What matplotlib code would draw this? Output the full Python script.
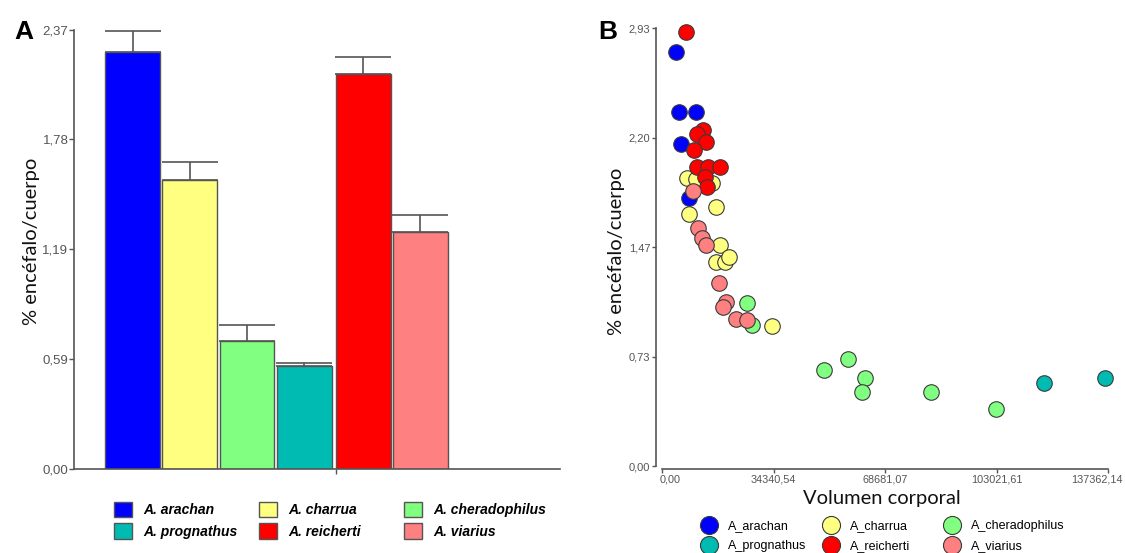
import numpy as np
import matplotlib.pyplot as plt
import matplotlib.transforms as mtransforms
from matplotlib.patches import Patch
from matplotlib.lines import Line2D

# Panel A: mean % encefalo/cuerpo per species (+ upper error)
species = ["A. arachan", "A. charrua", "A. cheradophilus",
           "A. prognathus", "A. reicherti", "A. viarius"]
colors = ["#0000FF", "#FFFF80", "#80FF80", "#00BBB2", "#FF0000", "#FF8080"]
means = [2.248, 1.559, 0.690, 0.556, 2.131, 1.277]
errs = [0.116, 0.095, 0.085, 0.016, 0.093, 0.093]
ylabels_a = ["0,00", "0,59", "1,19", "1,78", "2,37"]

# Panel B: body volume vs % encefalo/cuerpo
arachan_x = [4320, 5340, 10490, 5770, 8430]
arachan_y = [2.767, 2.370, 2.370, 2.152, 1.790]
charrua_x = [7610, 10490, 15330, 16660, 8430, 17890, 16560, 19440, 20670, 33840]
charrua_y = [1.924, 1.918, 1.895, 1.730, 1.686, 1.478, 1.367, 1.367, 1.396, 0.936]
cherado_x = [26320, 27670, 49760, 57170, 62630, 61600, 82890, 102730]
cherado_y = [1.088, 0.943, 0.642, 0.716, 0.591, 0.493, 0.493, 0.381]
progn_x = [117640, 136360]
progn_y = [0.553, 0.591]
reich_x = [7400, 12750, 10700, 13570, 9970, 10700, 14290, 17890, 13260, 13980]
reich_y = [2.901, 2.247, 2.219, 2.169, 2.114, 2.002, 2.002, 2.002, 1.935, 1.868]
viarius_x = [9660, 11010, 12250, 13570, 17680, 19740, 18720, 22830, 26130]
viarius_y = [1.842, 1.590, 1.523, 1.478, 1.226, 1.099, 1.062, 0.981, 0.977]
labels_b = ["A_arachan", "A_charrua", "A_cheradophilus",
            "A_prognathus", "A_reicherti", "A_viarius"]
xticks_b = [0, 34340.54, 68681.07, 103021.61, 137362.14]
xlabels_b = ["0,00", "34340,54", "68681,07", "103021,61", "137362,14"]
yticks_b = [0, 0.7325, 1.465, 2.1975, 2.93]
ylabels_b = ["0,00", "0,73", "1,47", "2,20", "2,93"]

AX = "#555555"
TICKC = "#333333"
labfont = {"family": "Lato", "size": 14.5, "color": "#111111"}

fig = plt.figure(figsize=(11.25, 5.53), dpi=100)
W, H = 1125, 553

def px_axes(l, t, r, b):
    return fig.add_axes([l / W, (H - b) / H, (r - l) / W, (b - t) / H])

def column_legends(handles, labels, xs, top, **kw):
    # one small legend per column so the columns sit on a fixed grid
    for j, x in enumerate(xs):
        fig.legend(handles[j::3], labels[j::3], loc="upper left",
                   bbox_to_anchor=(x / W, 1 - top / H), frameon=False,
                   borderaxespad=0, borderpad=0, **kw)

def nudge(label, dx_px):
    label.set_transform(label.get_transform()
                        + mtransforms.ScaledTranslation(dx_px / 100, 0, fig.dpi_scale_trans))

# ---------------- Panel A ----------------
axA = px_axes(74, 29.5, 560, 469)
xpos = [0, 1, 2, 3, 4.03, 5.03]
axA.bar(xpos, means, width=0.96, color=colors, edgecolor=AX, linewidth=1.0, zorder=2)
axA.errorbar(xpos, means, yerr=[[0] * 6, errs], fmt="none", ecolor=AX,
             elinewidth=1.2, capsize=20, capthick=1.2, zorder=1)
axA.set_xlim(-1.023, 7.47)
axA.set_ylim(0, 2.37)
axA.set_yticks(np.linspace(0, 2.37, 5))
axA.set_yticklabels(ylabels_a, family="Liberation Sans", size=9.5, color=TICKC)
axA.set_xticks([3.55])
axA.set_xticklabels([""])
for s in ["top", "right"]:
    axA.spines[s].set_visible(False)
for s in ["left", "bottom"]:
    axA.spines[s].set_color(AX)
    axA.spines[s].set_linewidth(1.2)
axA.tick_params(colors=AX, length=3.5, width=1, pad=0.5)
axA.set_ylabel("% encéfalo/cuerpo", fontdict=labfont, labelpad=1.5)
axA.yaxis.label.set_y((469 - 241) / 439.5)

handlesA = [Patch(facecolor=c, edgecolor=AX, linewidth=1.0) for c in colors]
column_legends(handlesA, species, [114, 259, 404], 502,
               handlelength=1.3, handleheight=1.3, handletextpad=0.8,
               labelspacing=0.45,
               prop={"family": "Liberation Sans", "style": "italic",
                     "weight": "bold", "size": 10})

fig.text(14 / W, 1 - 32 / H, "A", fontsize=19, fontweight="bold",
         family="Liberation Sans", va="center", ha="left")

# ---------------- Panel B ----------------
axB = px_axes(656, 28, 1108, 469)
xs = [arachan_x, charrua_x, cherado_x, progn_x, reich_x, viarius_x]
ys = [arachan_y, charrua_y, cherado_y, progn_y, reich_y, viarius_y]
for x, y, c in zip(xs, ys, colors):
    axB.scatter(x, y, s=125, c=c, edgecolors="#3a3a3a", linewidths=0.8,
                zorder=3, clip_on=False)
axB.set_xlim(-1851, 137362.14)
axB.set_ylim(-0.02, 2.93)
axB.spines["left"].set_bounds(0, 2.93)
axB.spines["bottom"].set_bounds(0, 137362.14)
for s in ["top", "right"]:
    axB.spines[s].set_visible(False)
for s in ["left", "bottom"]:
    axB.spines[s].set_color(AX)
    axB.spines[s].set_linewidth(1.2)
axB.set_xticks(xticks_b)
axB.set_xticklabels(xlabels_b, family="Liberation Sans", size=7.8, color=TICKC)
axB.set_yticks(yticks_b)
axB.set_yticklabels(ylabels_b, family="Liberation Sans", size=8, color=TICKC)
axB.tick_params(colors=AX, length=3, width=1, pad=1)
# end labels are kept inside the axis span, as in the original
nudge(axB.get_xticklabels()[0], 8)
nudge(axB.get_xticklabels()[-1], -11)
axB.set_xlabel("Volumen corporal", fontdict=labfont, labelpad=4)
axB.set_ylabel("% encéfalo/cuerpo", fontdict=labfont, labelpad=3)
axB.yaxis.label.set_y((469 - 251) / 441)

handlesB = [Line2D([], [], marker="o", linestyle="", markersize=13,
                   markerfacecolor=c, markeredgecolor="#3a3a3a",
                   markeredgewidth=0.8) for c in colors]
column_legends(handlesB, labels_b, [701.5, 823.5, 944.5], 520,
               handlelength=1.2, handletextpad=0.88, labelspacing=0.68,
               prop={"family": "Liberation Sans", "size": 9})

fig.text(598 / W, 1 - 32 / H, "B", fontsize=19, fontweight="bold",
         family="Liberation Sans", va="center", ha="left")

fig.savefig("out.png", dpi=100)
